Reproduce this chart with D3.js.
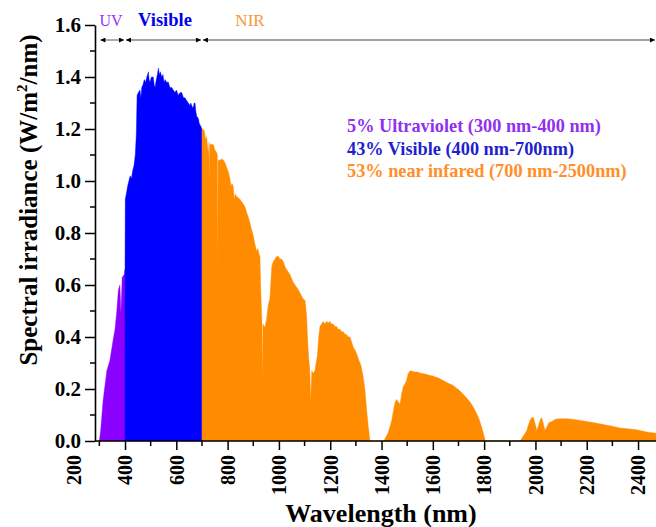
<!DOCTYPE html>
<html>
<head>
<meta charset="utf-8">
<script src="https://cdn.jsdelivr.net/npm/d3@7"></script>
<style>
  body { margin: 0; background: #fff; }
  svg { display: block; font-family: "Liberation Serif", "Times New Roman", serif; }
</style>
</head>
<body>
<svg id="spectrum" width="656" height="527"></svg>
<script>
// spectrum: wavelength (nm) and irradiance (W/m2/nm)
var uvWl  = [300, 305, 315, 329, 341, 354, 361, 368, 374, 380, 384, 389, 397, 400];
var uvVal = [0, 0.04, 0.16, 0.27, 0.31, 0.39, 0.43, 0.50, 0.58, 0.60, 0.49, 0.63, 0.64, 0.66];

var visWl  = [400, 401, 405, 410, 415, 420, 425, 430, 435, 440, 444, 447, 452, 458, 462, 465, 470, 475, 480, 485,
              491, 494, 497, 503, 510, 514, 517, 522, 526, 530, 534, 538, 543, 548, 552, 556, 562, 569, 575, 582,
              588, 595, 600, 608, 615, 621, 628, 634, 640, 647, 653, 657, 660, 665, 670, 673, 676, 679, 686, 690, 696, 700];
var visVal = [0.66, 0.93, 0.95, 0.98, 1.00, 1.02, 1.01, 1.04, 1.06, 1.10, 1.18, 1.33, 1.34, 1.35, 1.32, 1.36, 1.37, 1.39, 1.38, 1.40,
              1.42, 1.39, 1.38, 1.40, 1.40, 1.37, 1.36, 1.39, 1.41, 1.435, 1.41, 1.42, 1.40, 1.41, 1.38, 1.39, 1.38, 1.38, 1.36, 1.36,
              1.35, 1.34, 1.35, 1.33, 1.34, 1.34, 1.32, 1.32, 1.31, 1.30, 1.29, 1.30, 1.29, 1.28, 1.30, 1.30, 1.27, 1.25, 1.24, 1.22, 1.21, 1.20];

var nirWl  = [700, 704, 710, 714, 718, 722, 725, 728, 729, 731, 735, 744, 750, 757, 760, 761, 763, 770, 777, 784,
              790, 797, 803, 809, 813, 817, 822, 826, 830, 835, 842, 848, 855, 862, 868, 874, 881, 887, 894, 900,
              906, 913, 918, 922, 926, 930, 934, 936, 938, 942, 946, 952, 958, 965, 969, 972, 978, 985, 991, 998,
              1004, 1010, 1017, 1024, 1030, 1043, 1056, 1070, 1082, 1092, 1102, 1108, 1112, 1116, 1120, 1124, 1128, 1134, 1140, 1145,
              1150, 1155, 1160, 1166, 1173, 1180, 1186, 1193, 1199, 1205, 1212, 1218, 1225, 1231, 1238, 1245, 1251, 1258, 1264, 1270,
              1277, 1284, 1290, 1297, 1305, 1312, 1320, 1328, 1335, 1342, 1348, 1355, 1410, 1414, 1425, 1433, 1440, 1447, 1453, 1459,
              1466, 1472, 1478, 1485, 1492, 1498, 1504, 1512, 1520, 1530, 1540, 1550, 1560, 1570, 1580, 1590, 1600, 1610, 1620, 1630,
              1640, 1650, 1660, 1670, 1680, 1690, 1700, 1710, 1720, 1732, 1745, 1758, 1771, 1780, 1790, 1797, 1805, 1940, 1950, 1960,
              1966, 1972, 1979, 1986, 1992, 1998, 2005, 2012, 2018, 2024, 2030, 2037, 2045, 2052, 2064, 2075, 2083, 2100, 2120, 2135,
              2150, 2170, 2200, 2230, 2265, 2300, 2330, 2360, 2395, 2434, 2470, 2500];
var nirVal = [1.20, 1.20, 1.19, 1.16, 1.17, 1.13, 1.10, 1.15, 0.99, 1.14, 1.14, 1.14, 1.12, 1.11, 1.10, 0.64, 1.08, 1.08, 1.085, 1.08,
              1.07, 1.05, 1.035, 1.01, 0.98, 0.99, 0.98, 0.93, 0.95, 0.94, 0.935, 0.93, 0.92, 0.91, 0.90, 0.88, 0.86, 0.84, 0.81, 0.79,
              0.76, 0.73, 0.74, 0.72, 0.71, 0.56, 0.45, 0.23, 0.45, 0.44, 0.44, 0.47, 0.52, 0.55, 0.62, 0.67, 0.69, 0.70, 0.71, 0.71,
              0.70, 0.70, 0.69, 0.67, 0.66, 0.64, 0.61, 0.59, 0.57, 0.55, 0.54, 0.48, 0.39, 0.32, 0.28, 0.15, 0.27, 0.26, 0.27, 0.30,
              0.33, 0.40, 0.44, 0.45, 0.46, 0.45, 0.46, 0.455, 0.46, 0.45, 0.45, 0.44, 0.44, 0.43, 0.43, 0.42, 0.42, 0.41, 0.41, 0.40,
              0.40, 0.38, 0.36, 0.35, 0.33, 0.31, 0.29, 0.25, 0.20, 0.12, 0.06, 0, 0, 0.01, 0.03, 0.055, 0.08, 0.12, 0.15, 0.16,
              0.15, 0.14, 0.18, 0.21, 0.22, 0.235, 0.26, 0.27, 0.268, 0.265, 0.265, 0.262, 0.26, 0.258, 0.255, 0.252, 0.25, 0.246, 0.243, 0.238,
              0.233, 0.228, 0.222, 0.218, 0.213, 0.205, 0.198, 0.188, 0.178, 0.165, 0.15, 0.13, 0.105, 0.085, 0.055, 0.03, 0, 0, 0.015, 0.03,
              0.04, 0.06, 0.08, 0.09, 0.09, 0.07, 0.04, 0.06, 0.08, 0.09, 0.07, 0.04, 0.055, 0.07, 0.075, 0.082, 0.085, 0.086, 0.086, 0.085,
              0.083, 0.08, 0.075, 0.07, 0.063, 0.057, 0.05, 0.047, 0.043, 0.035, 0.03, 0.028];

var xTicks = [200, 400, 600, 800, 1000, 1200, 1400, 1600, 1800, 2000, 2200, 2400];
var yTicks = [0, 0.2, 0.4, 0.6, 0.8, 1.0, 1.2, 1.4, 1.6];

var bands = [
  { name: "UV",      from: 300, to: 400,  wl: uvWl,  val: uvVal,  fill: "#8c00ff" },
  { name: "Visible", from: 400, to: 700,  wl: visWl, val: visVal, fill: "#0000ff" },
  { name: "NIR",     from: 700, to: 2500, wl: nirWl, val: nirVal, fill: "#ff8c00" }
];
var legendLines = [
  "5% Ultraviolet (300 nm-400 nm)",
  "43% Visible (400 nm-700nm)",
  "53% near infared (700 nm-2500nm)"
];

var width = 656, height = 527;
var margin = { top: 25, right: 0, bottom: 86, left: 95 };

var svg = d3.select("svg#spectrum");

var x = d3.scaleLinear().domain([283, 2470]).range([margin.left, width]);
var y = d3.scaleLinear().domain([0, 1.6]).range([height - margin.bottom, margin.top]);

// filled spectrum, one area per band
var area = d3.area()
  .x(d => x(d[0]))
  .y0(y(0))
  .y1(d => y(d[1]));

svg.append("g")
  .selectAll("path")
  .data(bands)
  .join("path")
    .attr("d", b => area(d3.zip(b.wl, b.val)))
    .attr("fill", b => b.fill)
    .attr("stroke", b => b.fill)
    .attr("stroke-width", 0.4);

// axes
var y0 = y(0);
var xAxis = svg.append("g")
  .attr("transform", `translate(0,${y0})`)
  .call(d3.axisBottom(x).tickValues(xTicks).tickSize(9).tickPadding(4).tickFormat(d3.format("d")));
xAxis.select(".domain").remove();
xAxis.selectAll(".tick").filter(d => d < 283).select("line").remove();
xAxis.selectAll(".tick line").attr("stroke-width", 1.5);
xAxis.selectAll(".tick text")
  .attr("transform", "rotate(-90)")
  .attr("text-anchor", "end")
  .attr("x", -14)
  .attr("y", 0)
  .attr("dy", "0.34em")
  .attr("font-size", 20)
  .attr("font-weight", "bold")
  .attr("font-family", "Liberation Serif")
  .attr("fill", "#000");

svg.append("g")
  .selectAll("line")
  .data(d3.range(300, 2500, 200))
  .join("line")
    .attr("x1", d => x(d)).attr("x2", d => x(d))
    .attr("y1", y0).attr("y2", y0 + 5)
    .attr("stroke", "#000").attr("stroke-width", 1.5);

svg.append("line")
  .attr("x1", margin.left).attr("x2", width)
  .attr("y1", y0).attr("y2", y0)
  .attr("stroke", "#000").attr("stroke-width", 1.6);

var yAxis = svg.append("g")
  .attr("transform", `translate(${margin.left},0)`)
  .call(d3.axisLeft(y).tickValues(yTicks).tickSize(10).tickPadding(4).tickSizeOuter(0).tickFormat(d3.format(".1f")));
yAxis.select(".domain").attr("stroke-width", 1.6);
yAxis.selectAll(".tick line").attr("stroke-width", 1.5);
yAxis.selectAll(".tick text")
  .attr("font-size", 21)
  .attr("font-weight", "bold")
  .attr("font-family", "Liberation Serif")
  .attr("fill", "#000");

svg.append("g")
  .selectAll("line")
  .data(d3.range(0.1, 1.6, 0.2))
  .join("line")
    .attr("x1", margin.left - 5).attr("x2", margin.left)
    .attr("y1", d => y(d)).attr("y2", d => y(d))
    .attr("stroke", "#000").attr("stroke-width", 1.5);

// axis titles
svg.append("text")
  .attr("transform", "translate(37,200) rotate(-90)")
  .attr("text-anchor", "middle")
  .attr("font-size", 25)
  .attr("font-weight", "bold")
  .text("Spectral irradiance (W/m")
  .call(t => t.append("tspan").attr("dy", -10).attr("font-size", 15).text("2"))
  .call(t => t.append("tspan").attr("dy", 10).text("/nm)"));

svg.append("text")
  .attr("x", 381).attr("y", 522)
  .attr("text-anchor", "middle")
  .attr("font-size", 26)
  .attr("font-weight", "bold")
  .text("Wavelength (nm)");

// band arrows along the top
var defs = svg.append("defs");
defs.append("marker")
  .attr("id", "head")
  .attr("viewBox", "0 0 10 10")
  .attr("refX", 10).attr("refY", 5)
  .attr("markerWidth", 10).attr("markerHeight", 5)
  .attr("markerUnits", "userSpaceOnUse")
  .attr("orient", "auto-start-reverse")
  .append("path")
    .attr("d", "M0,0L10,5L0,10Z")
    .attr("fill", "#000");

var arrowY = 40;
svg.append("g")
  .selectAll("line")
  .data(bands)
  .join("line")
    .attr("x1", b => x(b.from) + 1)
    .attr("x2", b => Math.min(x(b.to), width) - 1)
    .attr("y1", arrowY).attr("y2", arrowY)
    .attr("stroke", "#808080")
    .attr("stroke-width", 1.3)
    .attr("marker-start", "url(#head)")
    .attr("marker-end", "url(#head)");

var bandLabels = [
  { text: "UV",      x: 111, size: 16,   weight: "normal", color: "#9b30ff" },
  { text: "Visible", x: 165, size: 18.5, weight: "bold",   color: "#0000ee" },
  { text: "NIR",     x: 250, size: 17,   weight: "normal", color: "#f7963a" }
];
svg.append("g")
  .selectAll("text")
  .data(bandLabels)
  .join("text")
    .attr("x", d => d.x).attr("y", 26)
    .attr("text-anchor", "middle")
    .attr("font-size", d => d.size)
    .attr("font-weight", d => d.weight)
    .attr("fill", d => d.color)
    .text(d => d.text);

// legend text
var legendColors = ["#9130f0", "#1f1fcf", "#ff8f2a"];
svg.append("g")
  .selectAll("text")
  .data(legendLines)
  .join("text")
    .attr("x", 347)
    .attr("y", (d, i) => 132 + i * 22.5)
    .attr("font-size", 18.3)
    .attr("font-weight", "bold")
    .attr("fill", (d, i) => legendColors[i])
    .text(d => d);
</script>
</body>
</html>
